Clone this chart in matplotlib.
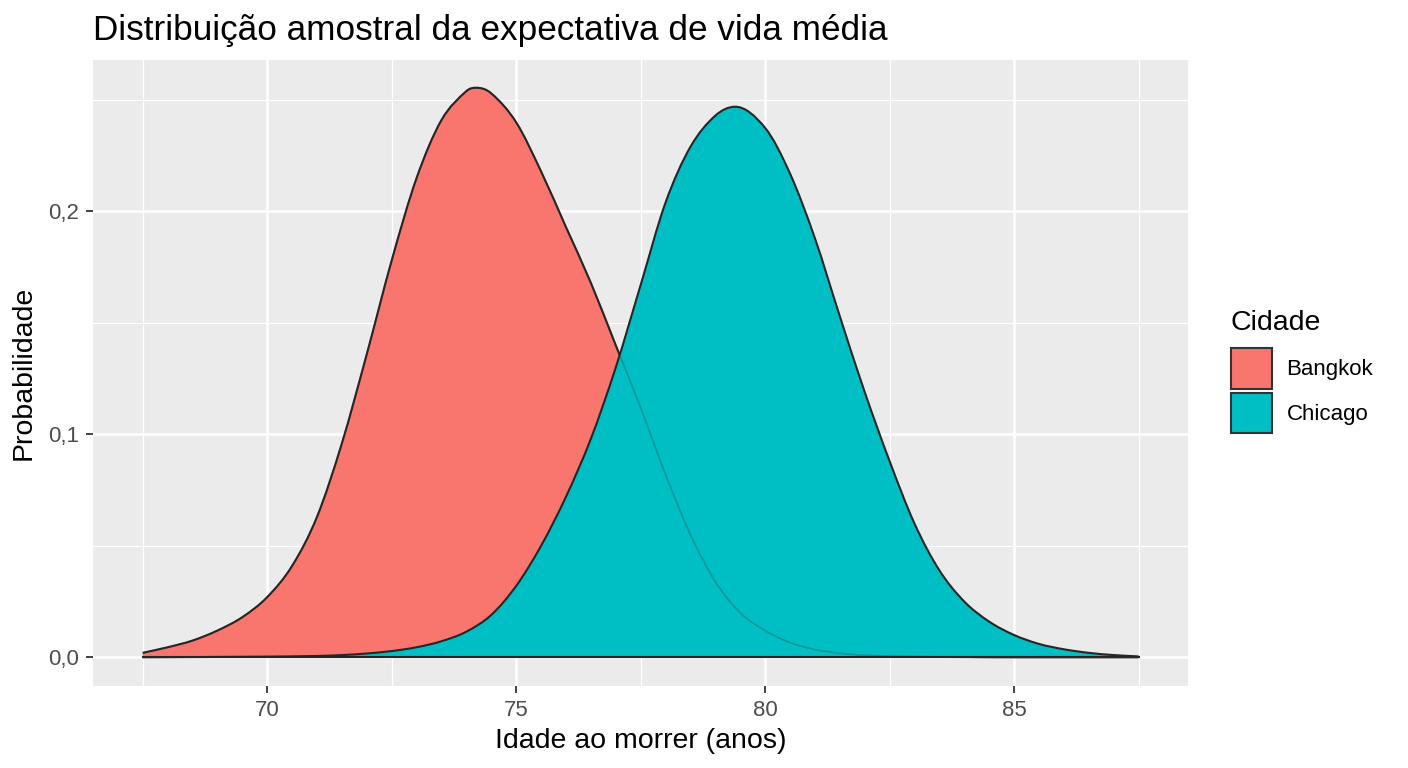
import matplotlib
matplotlib.use('Agg')
import numpy as np
import matplotlib.pyplot as plt
from matplotlib.patches import Patch, PathPatch
from matplotlib.path import Path
from matplotlib.ticker import FuncFormatter

# idade (anos) e densidade
bangkok_x = [67.5, 68.0, 68.5, 69.0, 69.5, 70.0, 70.5, 71.0, 71.5, 72.0, 72.5, 73.0, 73.5,
             74.0, 74.2, 74.5, 75.0, 75.5, 76.0, 76.5, 77.0, 77.5, 78.0, 78.5, 79.0, 79.5,
             80.0, 80.5, 81.0, 81.5, 82.0, 83.0, 84.0, 85.0, 87.5]
bangkok_y = [0.002, 0.0045, 0.0075, 0.012, 0.018, 0.027, 0.041, 0.063, 0.096, 0.136, 0.178, 0.215, 0.241,
             0.254, 0.2555, 0.253, 0.240, 0.218, 0.193, 0.168, 0.140, 0.112, 0.082, 0.055, 0.034, 0.020,
             0.012, 0.0066, 0.0035, 0.0018, 0.0009, 0.0003, 0.0001, 0.0, 0.0]

chicago_x = [67.5, 70.0, 71.0, 71.5, 72.0, 72.5, 73.0, 73.5, 74.0, 74.5, 75.0, 75.5, 76.0, 76.5,
             77.0, 77.5, 78.0, 78.5, 79.0, 79.4, 80.0, 80.5, 81.0, 81.5, 82.0, 82.5, 83.0,
             83.5, 84.0, 84.5, 85.0, 85.5, 86.0, 86.5, 87.0, 87.5]
chicago_y = [0.0, 0.0003, 0.0006, 0.001, 0.0017, 0.0028, 0.0045, 0.0072, 0.0115, 0.019, 0.032, 0.050, 0.072, 0.098,
             0.130, 0.167, 0.204, 0.229, 0.243, 0.247, 0.2375, 0.217, 0.188, 0.153, 0.119, 0.088, 0.060,
             0.039, 0.025, 0.016, 0.010, 0.006, 0.0036, 0.002, 0.001, 0.0004]

cidades = ['Bangkok', 'Chicago']
cores = ['#F8766D', '#00BFC4']


def smooth_path(xs, ys, closed=False):
    # bezier cubico passando pelos pontos lidos (tangentes tipo Fritsch-Carlson)
    x = np.asarray(xs, float)
    y = np.asarray(ys, float)
    d = np.diff(y) / np.diff(x)
    m = np.zeros_like(y)
    m[0], m[-1] = d[0], d[-1]
    for i in range(1, len(y) - 1):
        if d[i - 1] * d[i] > 0:
            m[i] = (y[i + 1] - y[i - 1]) / (x[i + 1] - x[i - 1])
    verts = [(x[0], y[0])]
    codes = [Path.MOVETO]
    for i in range(len(x) - 1):
        h = x[i + 1] - x[i]
        verts += [(x[i] + h / 3, y[i] + m[i] * h / 3),
                  (x[i + 1] - h / 3, y[i + 1] - m[i + 1] * h / 3),
                  (x[i + 1], y[i + 1])]
        codes += [Path.CURVE4] * 3
    if closed:
        verts += [(x[-1], 0), (x[0], 0), (x[0], y[0])]
        codes += [Path.LINETO, Path.LINETO, Path.CLOSEPOLY]
    return Path(verts, codes)


plt.rcParams['font.family'] = ['Liberation Sans', 'DejaVu Sans']

fig = plt.figure(figsize=(14.08, 7.68), dpi=100)
ax = fig.add_axes([0.066, 0.107, 0.778, 0.815])
ax.set_facecolor('#EBEBEB')

line_c = '#262626'
# Bangkok
ax.add_patch(PathPatch(smooth_path(bangkok_x, bangkok_y, True), facecolor=cores[0],
                       edgecolor='none', zorder=3))
ax.add_patch(PathPatch(smooth_path(bangkok_x, bangkok_y), facecolor='none',
                       edgecolor=line_c, lw=1.5, zorder=3.5))
# Chicago por cima, deixando ver a linha de Bangkok de leve
ax.add_patch(PathPatch(smooth_path(chicago_x, chicago_y, True), facecolor=cores[1],
                       edgecolor='none', zorder=4))
ax.add_patch(PathPatch(smooth_path(bangkok_x, bangkok_y), facecolor='none',
                       edgecolor=line_c, lw=1.3, alpha=0.25, zorder=4.5))
ax.add_patch(PathPatch(smooth_path(chicago_x, chicago_y), facecolor='none',
                       edgecolor=line_c, lw=1.5, zorder=5))
ax.plot([67.5, 87.5], [0, 0], color=line_c, lw=1.5, zorder=5)

ax.set_xlim(66.5, 88.5)
ax.set_ylim(-0.0128, 0.268)
ax.set_xticks([70, 75, 80, 85])
ax.set_yticks([0.0, 0.1, 0.2])
ax.set_xticks([67.5, 72.5, 77.5, 82.5, 87.5], minor=True)
ax.set_yticks([0.05, 0.15, 0.25], minor=True)
ax.yaxis.set_major_formatter(FuncFormatter(lambda v, p: f'{v:.1f}'.replace('.', ',')))
ax.grid(which='major', color='white', lw=1.8, zorder=0)
ax.grid(which='minor', color='white', lw=0.9, zorder=0)
ax.set_axisbelow(True)
for s in ax.spines.values():
    s.set_visible(False)
ax.tick_params(which='major', length=5, width=1.3, color='#333333', labelcolor='#4D4D4D',
               labelsize=16, pad=5)
ax.tick_params(which='minor', length=0)

ax.set_xlabel('Idade ao morrer (anos)', fontsize=20.5, labelpad=5)
ax.set_ylabel('Probabilidade', fontsize=20.5, labelpad=8)
fig.text(0.066, 0.948, 'Distribuição amostral da expectativa de vida média', fontsize=25.3,
         ha='left', va='baseline')

# legenda: titulo separado para controlar o espaco ate as caixas
fig.text(1230 / 1408, 1 - 330 / 768, 'Cidade', fontsize=20.5, ha='left', va='baseline')
handles = [Patch(facecolor=c, edgecolor='#333333', lw=1.5) for c in cores]
leg = fig.legend(handles, cidades, loc='upper left', bbox_to_anchor=(1231 / 1408, 1 - 348 / 768),
                 frameon=False, fontsize=16, borderpad=0, borderaxespad=0,
                 handlelength=1.85, handleheight=2.45, labelspacing=0.17, handletextpad=0.65)

fig.savefig('out.png', dpi=100)
